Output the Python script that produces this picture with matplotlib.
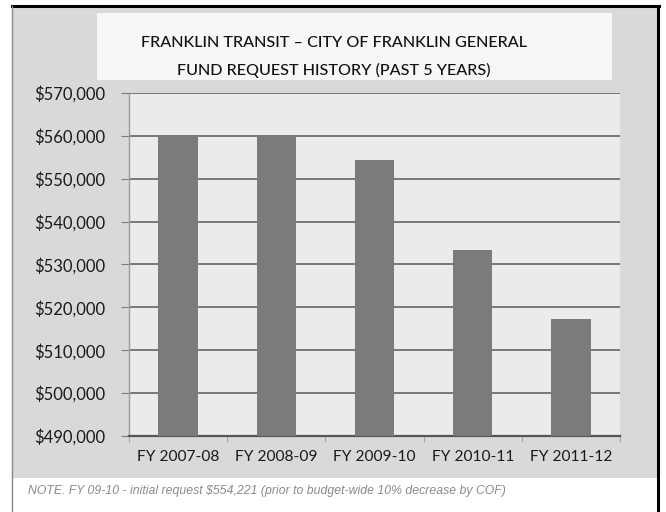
import numpy as np
import matplotlib
matplotlib.use("Agg")
import matplotlib.pyplot as plt
from matplotlib.patches import Rectangle
from matplotlib.lines import Line2D
from matplotlib.ticker import FuncFormatter

# --- data ---
fiscal_years = ['FY 2007-08', 'FY 2008-09', 'FY 2009-10', 'FY 2010-11', 'FY 2011-12']
requests = [560000, 560000, 554300, 533300, 517200]
y_ticks = [490000, 500000, 510000, 520000, 530000, 540000, 550000, 560000, 570000]

title_lines = ['FRANKLIN TRANSIT \u2013 CITY OF FRANKLIN GENERAL',
               'FUND REQUEST HISTORY (PAST 5 YEARS)']
note = 'NOTE. FY 09-10 - initial request $554,221 (prior to budget-wide 10% decrease by COF)'

plt.rcParams['font.family'] = ['Lato', 'DejaVu Sans']

W, H = 666, 512
fig = plt.figure(figsize=(W / 100, H / 100), dpi=100)
fig.patch.set_facecolor('white')

def fx(px):
    return px / W

def fy(py):
    return 1 - py / H

# chart background (grey) and note strip (white)
fig.add_artist(Rectangle((fx(12), fy(478)), fx(657 - 12), (478 - 6) / H,
                         transform=fig.transFigure, facecolor='#d9d9d9',
                         edgecolor='none', zorder=0))
# title box
fig.add_artist(Rectangle((fx(97), fy(80)), fx(612 - 97), (80 - 13) / H,
                         transform=fig.transFigure, facecolor='#f7f7f7',
                         edgecolor='none', zorder=1))
# borders
fig.add_artist(Line2D([fx(12), fx(659)], [fy(6), fy(6)], transform=fig.transFigure,
                      color='black', lw=2.2, zorder=5))
fig.add_artist(Line2D([fx(658), fx(658)], [fy(6), fy(512)], transform=fig.transFigure,
                      color='black', lw=2.2, zorder=5))
fig.add_artist(Line2D([fx(12), fx(12)], [fy(6), fy(512)], transform=fig.transFigure,
                      color='#8a8a8a', lw=1.0, zorder=5))

ax = fig.add_axes([fx(129), fy(436), fx(620 - 129), (436 - 93) / H])
ax.set_facecolor('#ebebeb')
x = np.arange(len(fiscal_years))
ax.bar(x, requests, width=0.4, color='#7b7b7b', zorder=3)

ax.set_xlim(-0.5, len(fiscal_years) - 0.5)
ax.set_ylim(490000, 570000)
ax.set_yticks(y_ticks)
ax.yaxis.set_major_formatter(FuncFormatter(lambda v, p: '${:,.0f}'.format(v)))
ax.grid(axis='y', color='#6e6e6e', lw=1.3, zorder=1)
ax.set_axisbelow(True)

ax.set_xticks(x)
ax.set_xticklabels(fiscal_years)
ax.set_xticks(np.arange(-0.5, len(fiscal_years)), minor=True)
ax.tick_params(axis='x', which='major', length=0, pad=10, labelsize=11.2, colors='#1a1a1a')
ax.tick_params(axis='x', which='minor', length=4, color='#9a9a9a', direction='out')
ax.tick_params(axis='y', length=6, color='#7a7a7a', pad=11, labelsize=12, labelcolor='#1a1a1a')

for side in ['top', 'right']:
    ax.spines[side].set_visible(False)
ax.spines['left'].set_color('#9a9a9a')
ax.spines['left'].set_linewidth(1.0)
ax.spines['bottom'].set_color('#555555')
ax.spines['bottom'].set_linewidth(1.6)

fig.text(fx(334), fy(43), title_lines[0], ha='center', va='center',
         fontsize=11.6, fontweight='medium', color='#111111', zorder=6)
fig.text(fx(334), fy(70), title_lines[1], ha='center', va='center',
         fontsize=11.6, fontweight='medium', color='#111111', zorder=6)
fig.text(fx(28), fy(491), note, ha='left', va='center', fontsize=8.8,
         family=['Liberation Sans', 'DejaVu Sans'],
         style='italic', color='#8a8a8a', zorder=6)

fig.savefig('out.png', dpi=100)
